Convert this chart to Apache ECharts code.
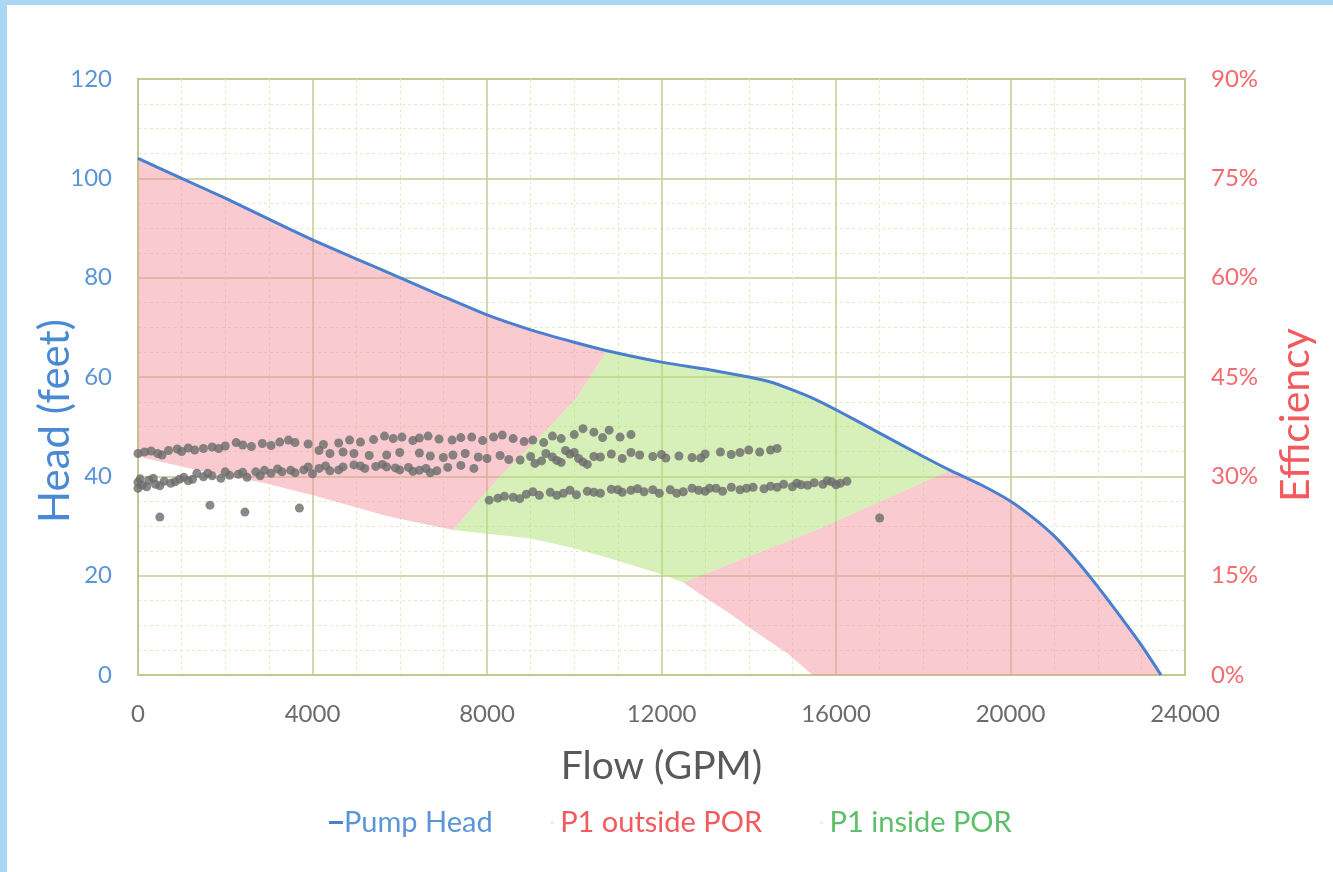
<!DOCTYPE html>
<html>
<head>
<meta charset="utf-8">
<script src="https://cdn.jsdelivr.net/npm/echarts@6/dist/echarts.min.js"></script>
<style>
  html, body { margin: 0; padding: 0; background: #ffffff; }
  #chart {
    position: absolute; left: 0; top: 0;
    width: 1333px; height: 872px;
    box-sizing: border-box;
    border-left: 7px solid #a9d7f5;
    border-top: 5px solid #a9d7f5;
    background: #ffffff;
  }
</style>
</head>
<body>
<div id="chart"></div>
<script>
// pump head curve (flow GPM -> head ft)
var headFlow = [0, 1000, 2000, 3000, 4000, 5000, 6000, 7000, 8000, 9000, 10000, 10750, 12000, 13000, 14000, 14500, 15000, 15500, 16000, 17000, 18000, 18620, 19300, 20000, 20500, 21000, 21500, 22000, 22500, 23000, 23450];
var headVal  = [104, 100, 96, 91.8, 87.6, 83.8, 80, 76.2, 72.5, 69.5, 67, 65.3, 63, 61.6, 60, 59, 57.4, 55.6, 53.4, 48.7, 44, 41.2, 38.4, 35, 31.8, 28, 23.2, 17.8, 12, 6, 0];

// lower edge of the shaded zone
var lowFlow = [0, 1350, 2870, 4100, 5700, 7220, 9000, 10000, 11000, 12000, 12500, 12950, 13500, 14100, 14880, 15470];
var lowVal  = [44, 41.3, 38.7, 36, 32, 29.2, 27.5, 25.5, 23, 20.3, 18.6, 15.9, 12.8, 9, 4.4, 0];

// POR limits (left & right edge of green zone)
var porLeft  = [[7220, 29.2], [8300, 40], [9444, 50], [10070, 56], [10750, 65.3]];
var porRight = [[12500, 18.6], [15630, 29.5], [18620, 41.2]];

// measured points
var p1Points = [
  // upper band
  [0,44.6],[150,44.9],[300,45.1],[450,44.6],[700,45.2],[900,45.5],[1150,45.7],[1300,45.3],[1700,45.9],[1850,45.6],
  [2250,46.8],[2400,46.3],[2850,46.6],[3050,46.2],[3450,47.3],[3600,46.8],[4250,46.4],[4600,46.7],[4850,47.3],[5100,46.9],
  [5650,48.1],[5850,47.6],[6050,47.9],[6300,47.2],[6650,48.1],[6900,47.5],[7200,47.3],[7650,47.9],[7900,47.2],[8350,48.3],
  [8600,47.6],[9050,47.3],[9300,46.8],[9700,47.6],[10200,49.6],[10450,48.9],[10800,49.3],[11050,47.9],[11300,48.4],
  [550,44.3],[1000,45.0],[1500,45.6],[2000,46.1],[2600,46.0],[3250,46.9],[3900,46.5],[5400,47.4],[6450,47.7],[7400,47.8],
  [8150,47.9],[8850,47.0],[9500,48.1],[10000,48.4],[10650,47.8],
  // middle band
  [4150,45.2],[4400,44.6],[4700,44.9],[4950,44.6],[5300,44.2],[5700,44.3],[6000,44.8],[6450,44.7],[6700,44.1],[7000,43.8],
  [7220,44.3],[7500,44.6],[7800,43.9],[8000,43.6],[8300,44.2],[8500,43.4],[8760,43.3],[9000,44.0],[9250,43.1],[9500,43.9],
  [9700,42.8],[9900,44.5],[10100,43.6],[10300,42.4],[10600,43.9],[10850,44.5],[11100,43.6],[11500,44.3],[11800,44.0],[12100,43.7],
  [12400,44.1],[12700,43.8],[13000,44.5],[13350,44.9],[13600,44.4],[14000,45.3],[14250,44.9],[14500,45.3],[14650,45.6],
  [9100,42.6],[9350,44.6],[9600,43.2],[9800,45.2],[10000,44.8],[10450,44.0],[10200,42.9],[11300,44.8],[12000,44.4],[12900,43.7],
  [13800,44.8],
  // lower band, left
  [0,37.6],[0,38.8],[100,38.2],[250,39.2],[400,38.4],[600,39.0],[750,38.6],[950,39.4],[1150,39.1],[1350,40.6],
  [1500,39.9],[1700,40.1],[1900,39.6],[2100,40.2],[2300,40.4],[2500,39.8],[2700,40.9],[2900,41.2],[3050,40.6],[3300,40.9],
  [3600,40.7],[3800,41.3],[4000,40.5],[4150,41.6],[4400,41.1],[4700,41.9],[4950,42.3],[5200,41.6],[5450,42.0],[5700,41.9],
  [6000,41.3],[6200,41.8],[6450,41.2],[6700,40.7],[6850,41.1],[7100,41.8],[7400,42.2],[7700,41.6],
  [50,39.5],[200,37.9],[350,39.6],[500,38.1],[850,38.9],[1050,39.8],[1250,39.4],[1600,40.6],[2000,40.9],[2400,40.8],
  [2800,40.1],[3200,41.5],[3500,41.2],[3900,41.9],[4300,42.1],[4600,41.3],[5100,42.1],[5600,42.4],[5900,41.7],[6300,41.0],
  [6600,41.6],
  // lower band, right
  [8050,35.2],[8250,35.6],[8600,35.8],[8900,36.4],[9200,36.2],[9450,36.8],[9750,36.6],[10050,36.3],[10300,37.0],[10600,36.6],
  [10850,37.4],[11100,36.8],[11300,37.2],[11600,36.9],[11950,36.6],[12200,37.3],[12500,36.9],[12850,37.2],[13100,37.6],[13400,37.0],
  [13800,37.3],[14100,37.8],[14350,37.5],[14500,38.0],[14800,38.4],[15000,37.9],[15200,38.3],[15500,38.7],[15700,38.4],[15900,38.9],
  [16100,38.6],[16250,39.0],
  [8400,36.0],[8750,35.5],[9050,36.9],[9600,36.2],[9900,37.2],[10450,36.8],[11000,37.3],[11450,37.5],[11800,37.3],[12350,36.6],
  [12700,37.6],[13000,37.0],[13250,37.6],[13600,37.8],[13950,37.6],[14650,37.8],[15100,38.6],[15350,38.2],[15800,39.1],[16000,38.3],
  // stray
  [1650,34.2],[2450,32.8],[3700,33.6],[500,31.8],[17000,31.6]
];

function pts(fl, vl, a, b) {
  var out = [];
  for (var i = 0; i < fl.length; i++) {
    if (fl[i] >= a && fl[i] <= b) out.push([fl[i], vl[i]]);
  }
  return out;
}

var headLine = headFlow.map(function (f, i) { return [f, headVal[i]]; });

// polygons
var outsideLeft = pts(headFlow, headVal, 0, 10750)
  .concat(porLeft.slice().reverse())
  .concat(pts(lowFlow, lowVal, 0, 7220).reverse());
var inside = pts(headFlow, headVal, 10750, 18620)
  .concat(porRight.slice().reverse())
  .concat(pts(lowFlow, lowVal, 7220, 12500).reverse())
  .concat(porLeft);
var outsideRight = pts(headFlow, headVal, 18620, 23450)
  .concat(pts(lowFlow, lowVal, 12500, 15470).reverse())
  .concat(porRight);

function polySeries(name, polys, fill) {
  return {
    name: name,
    type: 'custom',
    coordinateSystem: 'cartesian2d',
    silent: true,
    z: 1,
    itemStyle: { color: fill },
    data: [[0, 0]],
    renderItem: function (params, api) {
      return {
        type: 'group',
        children: polys.map(function (poly) {
          return {
            type: 'polygon',
            shape: { points: poly.map(function (p) { return api.coord(p); }) },
            style: { fill: fill }
          };
        })
      };
    }
  };
}

var fontName = 'Lato';
var myChart = echarts.init(document.getElementById('chart'));

myChart.setOption({
  backgroundColor: '#ffffff',
  animation: false,
  textStyle: { fontFamily: fontName },
  grid: {
    left: 131, right: 148, top: 74, bottom: 197,
    show: true, borderColor: '#bfca8c', borderWidth: 2, backgroundColor: 'transparent'
  },
  legend: {
    top: 798,
    left: 317,
    itemGap: 58,
    itemWidth: 14,
    itemHeight: 3,
    textStyle: { fontSize: 29, fontFamily: fontName, padding: [0, 0, 0, -4] },
    data: [
      { name: 'Pump Head', icon: 'rect', itemStyle: { color: '#4a7fd0' }, textStyle: { color: '#5b95d6' } },
      { name: 'P1 outside POR', icon: 'circle', itemStyle: { color: '#f1e4e4' }, textStyle: { color: '#f25a5e' } },
      { name: 'P1 inside POR', icon: 'circle', itemStyle: { color: '#e4f0de' }, textStyle: { color: '#5cbf6a' } }
    ]
  },
  xAxis: {
    type: 'value',
    min: 0, max: 24000, interval: 4000,
    name: 'Flow (GPM)',
    nameLocation: 'middle',
    nameGap: 72,
    nameTextStyle: { fontSize: 39, color: '#595959', fontFamily: fontName },
    axisLine: { show: true, lineStyle: { color: '#bfca8c', width: 2 } },
    axisTick: { show: false },
    axisLabel: {
      fontSize: 24, color: '#6b6b6b', margin: 27, fontFamily: fontName,
      formatter: function (v) { return String(v); }
    },
    splitLine: { show: true, lineStyle: { color: '#c4cd91', width: 1.5 } },
    minorTick: { show: false, splitNumber: 4 },
    minorSplitLine: { show: true, lineStyle: { color: '#e3ecc2', width: 1, type: [3, 3] } }
  },
  yAxis: [
    {
      type: 'value',
      min: 0, max: 120, interval: 20,
      name: 'Head (feet)',
      nameLocation: 'middle',
      nameGap: 62,
      nameMoveOverlap: false,
      nameTextStyle: { fontSize: 42, color: '#4a8ad4', fontFamily: fontName, padding: [0, 88, 0, 0] },
      axisLine: { show: true, lineStyle: { color: '#bfca8c', width: 2 } },
      axisTick: { show: false },
      axisLabel: { fontSize: 24, color: '#5b95d6', margin: 26, fontFamily: fontName },
      splitLine: { show: true, lineStyle: { color: '#c4cd91', width: 1.5 } },
      minorTick: { show: false, splitNumber: 4 },
      minorSplitLine: { show: true, lineStyle: { color: '#e3ecc2', width: 1, type: [3, 3] } }
    },
    {
      type: 'value',
      min: 0, max: 0.9, interval: 0.15,
      name: 'Efficiency',
      nameLocation: 'middle',
      nameGap: 90,
      nameTextStyle: { fontSize: 41, color: '#f25a5e', fontFamily: fontName, padding: [0, 76, 0, 0] },
      axisLine: { show: false },
      axisTick: { show: false },
      splitLine: { show: false },
      axisLabel: {
        fontSize: 24, color: '#f46a6e', margin: 26, fontFamily: fontName,
        formatter: function (v) { return Math.round(v * 100) + '%'; }
      }
    }
  ],
  series: [
    polySeries('P1 outside POR', [outsideLeft, outsideRight], 'rgba(244,150,160,0.5)'),
    polySeries('P1 inside POR', [inside], 'rgba(175,225,115,0.5)'),
    {
      name: 'P1',
      type: 'scatter',
      z: 3,
      symbolSize: 9,
      silent: true,
      itemStyle: { color: '#6c6c6c', opacity: 0.8 },
      data: p1Points
    },
    {
      name: 'Pump Head',
      type: 'line',
      z: 4,
      symbol: 'none',
      smooth: 0.15,
      lineStyle: { color: '#4a7fd0', width: 3 },
      itemStyle: { color: '#4a7fd0' },
      data: headLine
    }
  ]
});
</script>
</body>
</html>
